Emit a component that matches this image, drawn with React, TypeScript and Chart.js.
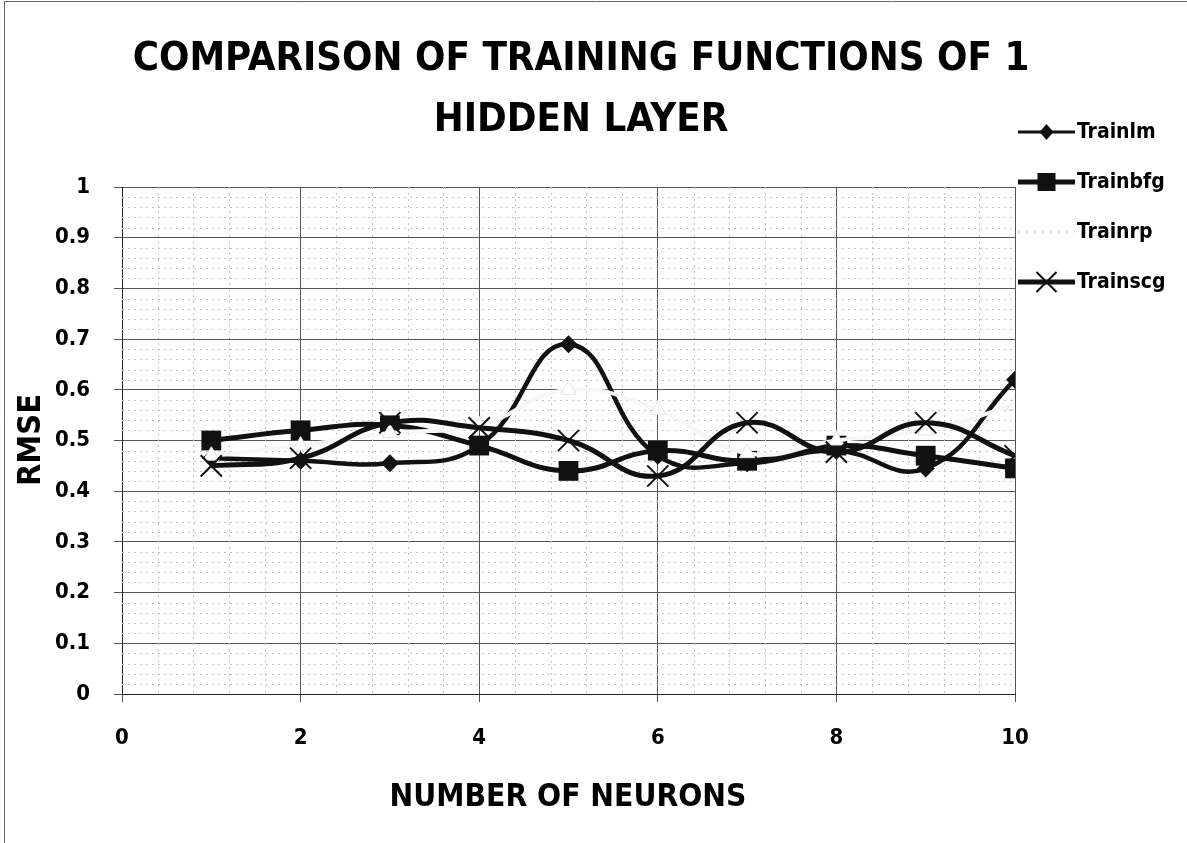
import React, { useEffect, useRef } from "react";
import { Chart, registerables } from "chart.js";

Chart.register(...registerables);

// ---- data ----
const neurons = [1, 2, 3, 4, 5, 6, 7, 8, 9, 10];
const trainlm = [0.465, 0.46, 0.455, 0.49, 0.69, 0.47, 0.455, 0.48, 0.445, 0.62];
const trainbfg = [0.5, 0.52, 0.53, 0.49, 0.44, 0.48, 0.46, 0.49, 0.47, 0.445];
const trainrp = [0.47, 0.49, 0.515, 0.53, 0.6, 0.56, 0.475, 0.5, 0.52, 0.57];
const trainscg = [0.45, 0.465, 0.535, 0.525, 0.5, 0.43, 0.535, 0.477, 0.535, 0.47];
const seriesNames = ["Trainlm", "Trainbfg", "Trainrp", "Trainscg"];
const titleLines = ["COMPARISON OF TRAINING FUNCTIONS OF 1", "HIDDEN LAYER"];
const xAxisTitle = "NUMBER OF NEURONS";
const yAxisTitle = "RMSE";
const xMin = 0, xMax = 10, xStep = 2;
const yMin = 0, yMax = 1, yStep = 0.1;

const FONT = "'DejaVu Sans Condensed', 'DejaVu Sans', sans-serif";
const INK = "#111";
const RP_LINE = "#f6f6f6";

const toPts = (vals: number[]) => neurons.map((n, i) => ({ x: n, y: vals[i] }));

function fitFont(ctx: CanvasRenderingContext2D, text: string, width: number) {
  ctx.font = `bold 100px ${FONT}`;
  const w = ctx.measureText(text).width;
  return (100 * width) / w;
}

function drawMarker(ctx: CanvasRenderingContext2D, kind: string, x: number, y: number) {
  ctx.save();
  if (kind === "diamond") {
    ctx.fillStyle = INK;
    ctx.beginPath();
    ctx.moveTo(x, y - 8); ctx.lineTo(x + 7, y); ctx.lineTo(x, y + 8); ctx.lineTo(x - 7, y);
    ctx.closePath(); ctx.fill();
  } else if (kind === "square") {
    ctx.fillStyle = INK;
    ctx.fillRect(x - 9, y - 9, 18, 18);
  } else if (kind === "cross") {
    ctx.strokeStyle = INK; ctx.lineWidth = 2;
    ctx.beginPath();
    ctx.moveTo(x - 10, y - 10); ctx.lineTo(x + 10, y + 10);
    ctx.moveTo(x + 10, y - 10); ctx.lineTo(x - 10, y + 10);
    ctx.stroke();
  }
  ctx.restore();
}

const decorPlugin = {
  id: "decor",
  beforeDatasetsDraw(chart: any) {
    const { ctx, chartArea, scales } = chart;
    const xs = scales.x, ys = scales.y;
    ctx.save();
    ctx.strokeStyle = "#c4c4c4";
    ctx.lineWidth = 1;
    ctx.setLineDash([2, 4]);
    for (let k = 1; k < 50; k++) {
      if (k % 5 === 0) continue;
      const py = Math.round(ys.getPixelForValue(k * 0.02)) + 0.5;
      ctx.beginPath(); ctx.moveTo(chartArea.left, py); ctx.lineTo(chartArea.right, py); ctx.stroke();
    }
    for (let k = 1; k < 25; k++) {
      if (k % 5 === 0) continue;
      const px = Math.round(xs.getPixelForValue(k * 0.4)) + 0.5;
      ctx.beginPath(); ctx.moveTo(px, chartArea.top); ctx.lineTo(px, chartArea.bottom); ctx.stroke();
    }
    ctx.restore();
  },
  afterDraw(chart: any) {
    const { ctx } = chart;
    ctx.save();
    // outer frame
    ctx.strokeStyle = "#666";
    ctx.lineWidth = 1;
    ctx.beginPath();
    ctx.moveTo(4.5, 843); ctx.lineTo(4.5, 1.5); ctx.lineTo(1187, 1.5);
    ctx.stroke();

    // title
    ctx.fillStyle = "#000";
    ctx.textAlign = "center";
    ctx.textBaseline = "middle";
    const tSize = fitFont(ctx, titleLines[0], 897);
    ctx.font = `bold ${tSize}px ${FONT}`;
    ctx.fillText(titleLines[0], 581, 60);
    ctx.fillText(titleLines[1], 581, 121);

    // axis titles
    const xs = fitFont(ctx, xAxisTitle, 357);
    ctx.font = `bold ${xs}px ${FONT}`;
    ctx.fillText(xAxisTitle, 568, 798);
    const ysz = fitFont(ctx, yAxisTitle, 92);
    ctx.font = `bold ${ysz}px ${FONT}`;
    ctx.save();
    ctx.translate(32, 440);
    ctx.rotate(-Math.PI / 2);
    ctx.fillText(yAxisTitle, 0, 0);
    ctx.restore();

    // legend
    const kinds = ["diamond", "square", "triangle", "cross"];
    ctx.textAlign = "left";
    ctx.font = `bold 21px ${FONT}`;
    seriesNames.forEach((name, i) => {
      const y = 132 + 50 * i;
      const x0 = 1018, x1 = 1075;
      ctx.save();
      if (kinds[i] === "triangle") {
        ctx.strokeStyle = "#d8d8d8";
        ctx.lineWidth = 2;
        ctx.setLineDash([2, 6]);
      } else {
        ctx.strokeStyle = INK;
        ctx.lineWidth = i === 0 ? 3 : 5;
      }
      ctx.beginPath(); ctx.moveTo(x0, y); ctx.lineTo(x1, y); ctx.stroke();
      ctx.restore();
      drawMarker(ctx, kinds[i], (x0 + x1) / 2, y);
      ctx.fillStyle = "#000";
      ctx.fillText(name, 1077, y + 1);
    });
    ctx.restore();
  },
};

export default function App() {
  const ref = useRef<HTMLCanvasElement | null>(null);
  useEffect(() => {
    document.body.style.margin = "0";
    const canvas = ref.current!;
    const tickFont = { family: FONT, size: 22, weight: "bold" };
    const chart = new Chart(canvas, {
      type: "line",
      data: {
        datasets: [
          {
            label: seriesNames[0], data: toPts(trainlm), order: 3,
            borderColor: INK, backgroundColor: INK, borderWidth: 4.5, tension: 0.45,
            pointStyle: "rectRot", pointRadius: 9, pointBorderWidth: 0,
          },
          {
            label: seriesNames[1], data: toPts(trainbfg), order: 2,
            borderColor: INK, backgroundColor: INK, borderWidth: 5, tension: 0.45,
            pointStyle: "rect", pointRadius: 14, pointBorderWidth: 0,
          },
          {
            label: seriesNames[2], data: toPts(trainrp), order: 1,
            borderColor: RP_LINE, backgroundColor: "#ffffff", borderWidth: 4, tension: 0.45,
            pointStyle: "triangle", pointRadius: 9, pointBorderWidth: 1, pointBorderColor: "#e4e4e4",
          },
          {
            label: seriesNames[3], data: toPts(trainscg), order: 0,
            borderColor: INK, backgroundColor: INK, borderWidth: 5, tension: 0.45,
            pointStyle: "crossRot", pointRadius: 15, pointBorderWidth: 2, pointBorderColor: INK,
          },
        ] as any,
      },
      options: {
        responsive: false,
        animation: false,
        layout: { padding: { left: 0, right: 172, top: 187, bottom: 0 } },
        plugins: {
          legend: { display: false },
          title: { display: false },
          tooltip: { enabled: false },
        },
        scales: {
          x: {
            type: "linear", min: xMin, max: xMax,
            ticks: { stepSize: xStep, color: "#000", padding: 23, font: tickFont },
            grid: { color: "#555", lineWidth: 1, tickLength: 8 },
            border: { color: "#222", width: 1 },
            afterFit: (s: any) => { s.height = 149; },
          },
          y: {
            type: "linear", min: yMin, max: yMax,
            ticks: {
              stepSize: yStep, color: "#000", padding: 24, font: tickFont,
              callback: (v: any) => String(Math.round(Number(v) * 10) / 10),
            },
            grid: { color: "#555", lineWidth: 1, tickLength: 8 },
            border: { color: "#222", width: 1 },
            afterFit: (s: any) => { s.width = 122; },
          },
        },
      } as any,
      plugins: [decorPlugin],
    });
    return () => chart.destroy();
  }, []);
  return (
    <div style={{ position: "absolute", left: 0, top: 0, width: 1187, height: 843, background: "#fff" }}>
      <canvas ref={ref} width={1187} height={843} style={{ display: "block" }} />
    </div>
  );
}
